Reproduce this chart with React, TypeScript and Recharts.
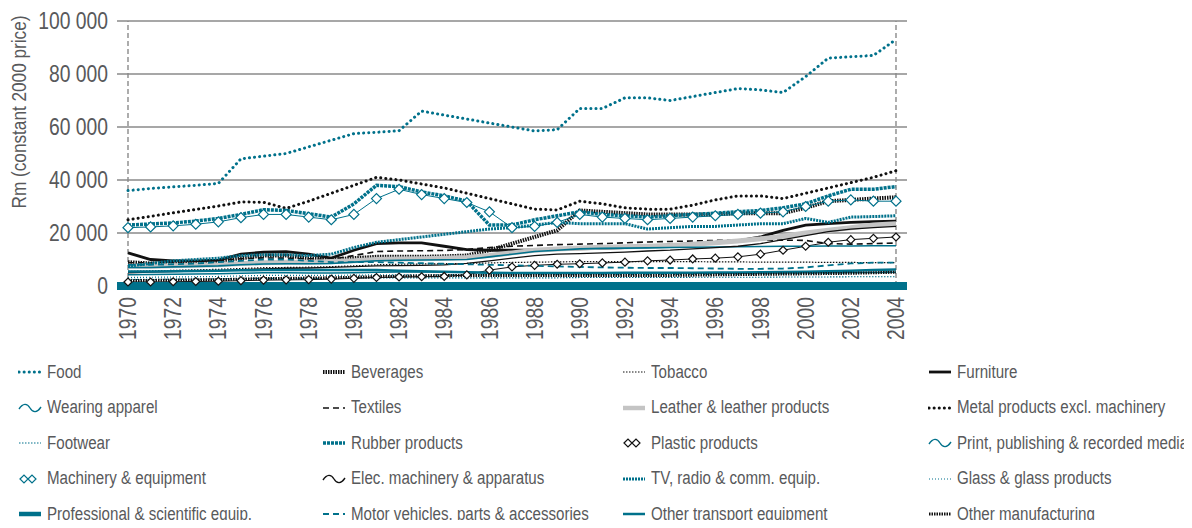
import React from 'react';
import { LineChart, Line, XAxis, YAxis, CartesianGrid, ReferenceLine, Label } from 'recharts';

const TEAL = '#00718b';
const GREY_TEXT = '#58595b';
const FONT = "'Liberation Sans', Arial, sans-serif";
const SQUEEZE = 0.84;

const years = [
  1970, 1971, 1972, 1973, 1974, 1975, 1976, 1977, 1978, 1979, 1980, 1981, 1982, 1983, 1984, 1985, 1986,
  1987, 1988, 1989, 1990, 1991, 1992, 1993, 1994, 1995, 1996, 1997, 1998, 1999, 2000, 2001, 2002, 2003, 2004,
];
const yTicks = [0, 20000, 40000, 60000, 80000, 100000];

const food = [36000, 36800, 37400, 38000, 38700, 48000, 49000, 50000, 52500, 55000, 57500, 58000, 58600, 66000, 64500, 63000, 61500, 60000, 58500, 59000, 67000, 67000, 71000, 71000, 70000, 71500, 73000, 74500, 74000, 73000, 79000, 86000, 86500, 87000, 93000];
const beverages = [9000, 8500, 8500, 9000, 9500, 10500, 11500, 11500, 10500, 10000, 10500, 11000, 11000, 11000, 11200, 11500, 13500, 16000, 18500, 21000, 28500, 28000, 27500, 27000, 27000, 27000, 27000, 27500, 27500, 27500, 29500, 32000, 32500, 33000, 33500];
const tobacco = [5500, 5700, 5900, 6100, 6300, 6600, 6900, 7000, 7100, 7300, 7600, 8000, 8200, 8300, 8400, 8500, 8700, 8900, 9000, 9100, 9200, 9200, 9200, 9200, 9200, 9200, 9100, 9100, 9000, 9000, 9000, 8900, 8900, 8800, 8800];
const furniture = [12500, 10000, 9500, 9500, 9800, 12000, 12800, 13000, 12000, 10500, 13500, 16000, 16300, 16300, 15000, 13700, 13500, 13500, 13500, 13800, 14000, 14200, 14500, 15000, 15500, 16000, 16500, 17000, 18500, 21000, 23000, 23500, 24000, 24300, 24500];
const wearingApparel = [4200, 4300, 4400, 4500, 4600, 4800, 5000, 5000, 4900, 4900, 5000, 5200, 5300, 5300, 5300, 5200, 5000, 4900, 4900, 4900, 4900, 4900, 4800, 4800, 4800, 4800, 4800, 4800, 4900, 4900, 5000, 5000, 5100, 5100, 5200];
const textiles = [8800, 8800, 9000, 9300, 9600, 10300, 10600, 10500, 10300, 10000, 11500, 13000, 13200, 13300, 13400, 13800, 14500, 15000, 15300, 15600, 15800, 16000, 16300, 16600, 16800, 17000, 17200, 17300, 17300, 17300, 17200, 16000, 15800, 16000, 16200];
const leather = [7500, 7500, 7600, 7800, 8000, 8500, 8800, 9000, 9000, 9200, 9500, 10000, 10200, 10300, 10500, 10800, 11500, 12500, 13500, 14000, 14300, 14600, 14800, 15000, 15300, 15800, 16300, 17000, 17800, 18800, 20000, 21000, 22000, 23000, 23500];
const metalProducts = [25000, 26300, 27600, 28900, 30200, 31700, 31600, 29300, 32000, 35000, 38000, 41000, 40000, 38500, 37000, 35000, 33000, 31000, 29000, 28700, 32000, 31000, 29500, 29000, 29000, 30500, 32500, 34000, 34000, 33000, 35000, 37000, 39000, 41000, 43500];
const footwear = [2500, 2500, 2600, 2600, 2700, 2800, 2900, 2900, 2900, 2900, 3000, 3100, 3100, 3100, 3100, 3100, 3100, 3100, 3100, 3100, 3200, 3200, 3200, 3200, 3200, 3300, 3300, 3300, 3300, 3400, 3400, 3400, 3500, 3500, 3500];
const rubber = [23000, 23400, 23800, 24500, 25500, 27000, 28800, 28500, 27300, 26000, 31000, 38000, 37500, 35500, 34000, 32000, 23000, 23000, 25000, 26500, 28000, 27000, 26500, 26000, 26500, 27000, 27500, 28000, 28500, 29500, 31000, 34000, 36500, 36500, 37500];
const plastic = [1500, 1500, 1600, 1700, 1800, 2000, 2200, 2300, 2400, 2600, 2900, 3200, 3400, 3500, 3600, 4200, 6000, 7200, 7800, 8200, 8400, 8700, 9000, 9500, 9800, 10200, 10500, 11000, 12000, 13500, 15000, 16500, 17500, 18000, 18500];
const printMedia = [7000, 7000, 7200, 7400, 7600, 8000, 8300, 8400, 8400, 8500, 9000, 9500, 9700, 9800, 9900, 10000, 11000, 12000, 13000, 13500, 14000, 14200, 14300, 14400, 14500, 14600, 14700, 14800, 14900, 15000, 15000, 15100, 15100, 15200, 15200];
const machinery = [22000, 22300, 22700, 23300, 24200, 25800, 27000, 27000, 26000, 25000, 27000, 33000, 36500, 34500, 33000, 31500, 28000, 22000, 22500, 24000, 27000, 26000, 25500, 25000, 25500, 26000, 26500, 27000, 27500, 28000, 30000, 32000, 32500, 32000, 32000];
const elecMachinery = [5000, 5200, 5400, 5600, 5800, 6200, 6500, 6700, 6800, 7000, 7300, 7600, 7700, 7800, 8000, 8500, 9500, 10500, 11500, 12000, 12200, 12500, 12800, 13200, 13500, 14000, 14500, 15000, 16000, 17500, 19000, 20500, 21500, 22000, 22500];
const tvRadio = [7500, 8500, 9500, 10000, 10500, 11500, 11800, 11800, 11500, 12000, 14500, 16500, 17500, 18500, 19500, 20500, 21500, 22000, 23000, 24000, 23500, 23500, 23500, 21500, 22000, 22500, 22500, 23000, 23500, 23500, 25500, 24000, 26000, 26200, 26500];
const glass = [3200, 3300, 3400, 3500, 3600, 3800, 4000, 4000, 4000, 4000, 4100, 4200, 4200, 4200, 4200, 4200, 4200, 4200, 4300, 4300, 4300, 4300, 4300, 4300, 4400, 4400, 4400, 4500, 4500, 4600, 4700, 4800, 5000, 5200, 5500];
const professional = [400, 400, 400, 400, 400, 400, 400, 400, 400, 400, 400, 400, 400, 400, 400, 400, 400, 400, 400, 400, 400, 400, 400, 400, 400, 400, 400, 400, 400, 400, 400, 400, 400, 400, 400];
const motorVehicles = [8000, 8000, 8200, 8500, 9000, 9500, 10000, 10000, 9500, 9000, 9000, 9000, 8800, 8600, 8400, 8200, 8000, 7800, 7600, 7400, 7200, 7000, 6900, 6800, 6800, 6700, 6600, 6500, 6500, 6600, 7000, 7800, 8500, 8800, 8800];
const otherTransport = [5500, 5500, 5600, 5700, 5800, 5900, 6000, 6000, 6000, 6000, 6000, 6000, 5800, 5600, 5400, 5200, 5000, 4900, 4900, 4900, 4900, 4900, 5000, 5000, 5000, 5000, 5100, 5100, 5200, 5300, 5400, 5600, 5800, 6000, 6200];
const otherManufacturing = [2000, 2100, 2200, 2300, 2400, 2600, 2800, 2900, 3000, 3100, 3300, 3500, 3700, 3800, 3900, 4000, 4000, 4000, 4000, 4000, 4000, 4000, 4000, 4000, 4000, 4100, 4200, 4300, 4400, 4500, 4600, 4700, 4800, 5000, 5200];

type Style = {
  key: string;
  name: string;
  values: number[];
  color: string;
  width: number;
  dash?: string;
  cap?: 'round' | 'butt';
  marker?: 'diamond' | 'bigDiamond';
  wave?: boolean;
};

const series: Style[] = [
  { key: 'food', name: 'Food', values: food, color: TEAL, width: 3, dash: '0.1 5', cap: 'round' },
  { key: 'beverages', name: 'Beverages', values: beverages, color: '#111', width: 4, dash: '1.5 1' },
  { key: 'tobacco', name: 'Tobacco', values: tobacco, color: '#111', width: 1.2, dash: '1.5 1.5' },
  { key: 'furniture', name: 'Furniture', values: furniture, color: '#111', width: 2.8 },
  { key: 'wearingApparel', name: 'Wearing apparel', values: wearingApparel, color: TEAL, width: 1.5, wave: true },
  { key: 'textiles', name: 'Textiles', values: textiles, color: '#111', width: 1.6, dash: '6 4' },
  { key: 'leather', name: 'Leather & leather products', values: leather, color: '#c4c4c4', width: 5 },
  { key: 'metalProducts', name: 'Metal products excl. machinery', values: metalProducts, color: '#111', width: 3, dash: '0.1 5', cap: 'round' },
  { key: 'footwear', name: 'Footwear', values: footwear, color: TEAL, width: 1.2, dash: '1.5 1.5' },
  { key: 'rubber', name: 'Rubber products', values: rubber, color: TEAL, width: 3.5, dash: '3 1' },
  { key: 'plastic', name: 'Plastic products', values: plastic, color: '#111', width: 1, marker: 'diamond' },
  { key: 'printMedia', name: 'Print, publishing & recorded media', values: printMedia, color: TEAL, width: 1.6, wave: true },
  { key: 'machinery', name: 'Machinery & equipment', values: machinery, color: TEAL, width: 1, marker: 'bigDiamond' },
  { key: 'elecMachinery', name: 'Elec. machinery & apparatus', values: elecMachinery, color: '#111', width: 1.3, wave: true },
  { key: 'tvRadio', name: 'TV, radio & comm. equip.', values: tvRadio, color: TEAL, width: 3, dash: '2 1' },
  { key: 'glass', name: 'Glass & glass products', values: glass, color: TEAL, width: 1.2, dash: '1 2' },
  { key: 'professional', name: 'Professional & scientific equip.', values: professional, color: TEAL, width: 6 },
  { key: 'motorVehicles', name: 'Motor vehicles, parts & accessories', values: motorVehicles, color: TEAL, width: 1.8, dash: '6 4' },
  { key: 'otherTransport', name: 'Other transport equipment', values: otherTransport, color: TEAL, width: 2.5 },
  { key: 'otherManufacturing', name: 'Other manufacturing', values: otherManufacturing, color: '#111', width: 3, dash: '1.5 1' },
];

const data = years.map((year, i) => {
  const row: Record<string, number> = { year };
  series.forEach((s) => {
    row[s.key] = s.values[i];
  });
  return row;
});

const fmt = (v: number) => (v === 0 ? '0' : `${Math.floor(v / 1000)} ${String(v % 1000).padStart(3, '0')}`);

const diamondDot = (size: number, color: string) => (props: any) => {
  const { cx, cy, index } = props;
  if (cx == null || cy == null) return <g key={index} />;
  const h = size / 2;
  return (
    <path
      key={index}
      d={`M${cx - h},${cy} L${cx},${cy - h} L${cx + h},${cy} L${cx},${cy + h} Z`}
      fill="#fff"
      stroke={color}
      strokeWidth={1.2}
    />
  );
};

const XTick = (props: any) => {
  const { x, y, payload } = props;
  return (
    <g transform={`translate(${x},${y}) rotate(-90)`}>
      <text
        transform={`scale(${SQUEEZE},1)`}
        textAnchor="end"
        dominantBaseline="central"
        fill={GREY_TEXT}
        fontSize={23}
        fontFamily={FONT}
      >
        {payload.value}
      </text>
    </g>
  );
};

const YTick = (props: any) => {
  const { x, y, payload } = props;
  return (
    <g transform={`translate(${x},${y})`}>
      <text
        transform={`scale(${SQUEEZE},1)`}
        textAnchor="end"
        dominantBaseline="central"
        fill={GREY_TEXT}
        fontSize={23}
        fontFamily={FONT}
      >
        {fmt(payload.value)}
      </text>
    </g>
  );
};

const LegendIcon = ({ s }: { s: Style }) => {
  if (s.marker) {
    return (
      <svg width={24} height={12}>
        <path d="M2,6 L6,2 L10,6 L6,10 Z M10,6 L14,2 L18,6 L14,10 Z" fill="#fff" stroke={s.color} strokeWidth={1.2} />
      </svg>
    );
  }
  if (s.wave) {
    return (
      <svg width={24} height={12}>
        <path d="M1,7 C5,1 9,1 12,6 C15,11 19,11 23,5" fill="none" stroke={s.color} strokeWidth={1.4} />
      </svg>
    );
  }
  return (
    <svg width={24} height={12}>
      <line
        x1={1}
        y1={6}
        x2={23}
        y2={6}
        stroke={s.color}
        strokeWidth={Math.min(s.width, 4.5)}
        strokeDasharray={s.dash}
        strokeLinecap={s.cap || 'butt'}
      />
    </svg>
  );
};

const legendCols = [10, 314, 614, 920];

export default function App() {
  return (
    <div style={{ position: 'relative', width: 1176, height: 520, marginBottom: -8, fontFamily: FONT }}>
      <LineChart width={1176} height={512} data={data} margin={{ top: 13, right: 277, left: 0, bottom: 174 }}>
        <CartesianGrid vertical={false} stroke="#8a8a8a" strokeWidth={1.4} />
        <XAxis
          dataKey="year"
          interval={1}
          height={60}
          padding={{ left: 11, right: 11 }}
          axisLine={{ stroke: TEAL, strokeWidth: 8 }}
          tickLine={false}
          tickMargin={5}
          tick={<XTick />}
        />
        <YAxis
          width={109}
          domain={[0, 100000]}
          ticks={yTicks}
          axisLine={false}
          tickLine={false}
          tickMargin={3}
          tick={<YTick />}
        >
          <Label
            content={() => (
              <g transform="translate(11,104) rotate(-90)">
                <text
                  transform="scale(0.86,1)"
                  textAnchor="middle"
                  dominantBaseline="central"
                  fill={GREY_TEXT}
                  fontSize={20}
                  fontFamily={FONT}
                >
                  Rm (constant 2000 price)
                </text>
              </g>
            )}
          />
        </YAxis>
        <ReferenceLine x={1970} stroke="#8a8a8a" strokeWidth={1.4} strokeDasharray="5 3" />
        <ReferenceLine x={2004} stroke="#8a8a8a" strokeWidth={1.4} strokeDasharray="5 3" />
        {series.map((s) => (
          <Line
            key={s.key}
            dataKey={s.key}
            name={s.name}
            type="linear"
            stroke={s.color}
            strokeWidth={s.width}
            strokeDasharray={s.dash}
            strokeLinecap={s.cap || 'butt'}
            dot={s.marker ? diamondDot(s.marker === 'bigDiamond' ? 10 : 8, s.color) : false}
            activeDot={false}
            isAnimationActive={false}
          />
        ))}
      </LineChart>
      <div style={{ position: 'absolute', top: 352, left: 0, width: 1176 }}>
        {[0, 1, 2, 3, 4].map((row) => (
          <div key={row} style={{ position: 'relative', height: 35.5 }}>
            {[0, 1, 2, 3].map((col) => {
              const s = series[row * 4 + col];
              return (
                <div
                  key={col}
                  style={{
                    position: 'absolute',
                    left: legendCols[col],
                    top: 0,
                    display: 'flex',
                    alignItems: 'center',
                    gap: 5,
                    color: GREY_TEXT,
                    fontSize: 18,
                    whiteSpace: 'nowrap',
                    height: 24,
                  }}
                >
                  <LegendIcon s={s} />
                  <span style={{ display: 'inline-block', transform: `scaleX(${SQUEEZE})`, transformOrigin: 'left center' }}>
                    {s.name}
                  </span>
                </div>
              );
            })}
          </div>
        ))}
      </div>
    </div>
  );
}
